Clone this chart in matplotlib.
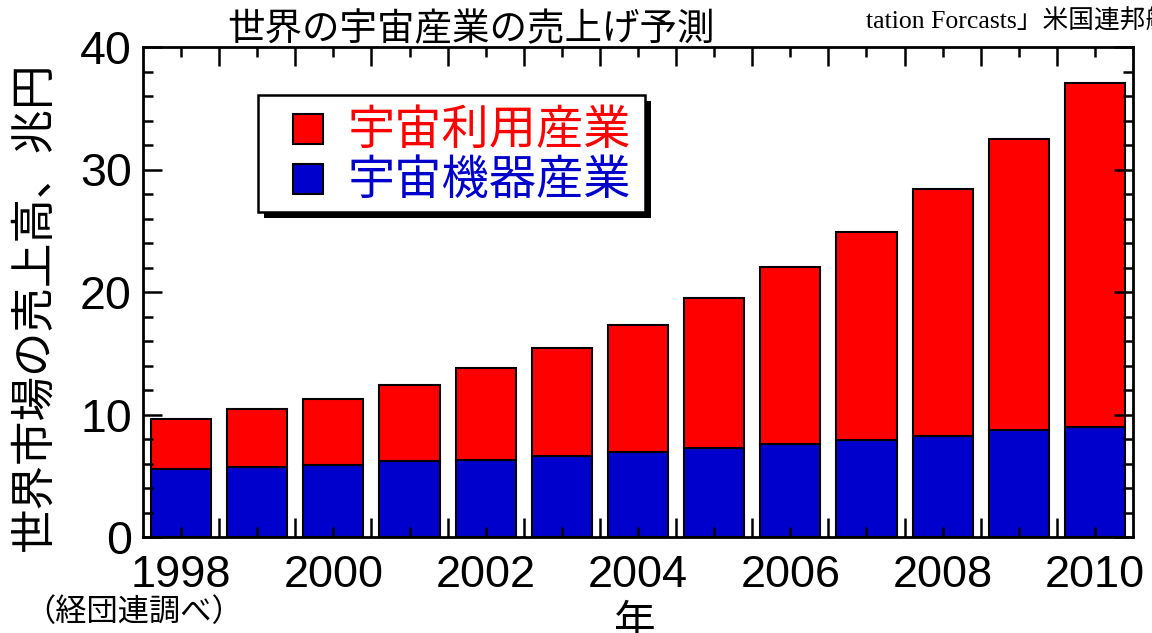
import matplotlib
matplotlib.use("Agg")
import matplotlib.pyplot as plt
import matplotlib.patheffects as pe
from matplotlib.patches import Rectangle
from matplotlib.ticker import MultipleLocator, FixedLocator, FuncFormatter

plt.rcParams['font.family'] = ['Liberation Sans', 'Noto Sans CJK JP', 'DejaVu Sans']

years = [1998, 1999, 2000, 2001, 2002, 2003, 2004, 2005, 2006, 2007, 2008, 2009, 2010]
equipment = [5.55, 5.74, 5.88, 6.18, 6.31, 6.64, 6.96, 7.29, 7.62, 7.92, 8.24, 8.71, 9.02]
total = [9.66, 10.45, 11.27, 12.38, 13.8, 15.4, 17.33, 19.5, 22.04, 24.9, 28.4, 32.5, 37.1]
utilization = [t - e for t, e in zip(total, equipment)]

label_util = '宇宙利用産業'
label_equip = '宇宙機器産業'
title = '世界の宇宙産業の売上げ予測'
ylabel = '世界市場の売上高、兆円'
xlabel = '年'
source = '（経団連調べ）'
top_note = 'tation Forcasts」米国連邦航空局'

RED = '#FF0000'
BLUE = '#0000CC'

W, H = 1152, 633
fig = plt.figure(figsize=(W / 100, H / 100), dpi=100)
ax = fig.add_axes([143 / W, 1 - 537 / H, 990 / W, 490 / H])

b1 = ax.bar(years, equipment, width=0.79, color=BLUE, edgecolor='black', linewidth=1.5, label=label_equip)
b2 = ax.bar(years, utilization, bottom=equipment, width=0.79, color=RED, edgecolor='black', linewidth=1.5, label=label_util)

ax.set_xlim(1997.5, 2010.5)
ax.set_ylim(0, 40)

ax.yaxis.set_major_locator(MultipleLocator(10))
ax.yaxis.set_minor_locator(MultipleLocator(2))
ax.xaxis.set_major_locator(FixedLocator(years))
ax.xaxis.set_major_formatter(FuncFormatter(lambda v, p: f'{int(round(v))}' if int(round(v)) % 2 == 0 else ''))
ax.xaxis.set_minor_locator(FixedLocator([y + 0.5 for y in years[:-1]]))

ax.tick_params(axis='x', which='major', direction='in', length=7, width=1.8, top=True, bottom=True,
               labelsize=32.5, pad=13)
ax.tick_params(axis='x', which='minor', direction='in', length=14, width=1.8, top=True, bottom=True)
ax.tick_params(axis='y', which='major', direction='in', length=14, width=1.8, left=True, right=True,
               labelsize=33.5, pad=8)
ax.tick_params(axis='y', which='minor', direction='in', length=7, width=1.8, left=True, right=True)
for s in ax.spines.values():
    s.set_linewidth(2)

# y label placed as in reference
fig.text(34 / W, 1 - 306 / H, ylabel, fontsize=32, family=['Noto Sans CJK JP'],
         rotation=90, ha='center', va='center')

fig.text(471 / W, 1 - 30 / H, title, fontsize=27, family=['Noto Sans CJK JP'], ha='center', va='center')
fig.text(866 / W, 1 - 22 / H, top_note, fontsize=18.5, family=['Liberation Serif', 'Noto Sans CJK JP'],
         ha='left', va='center')
fig.text(24 / W, 1 - 612 / H, source, fontsize=22.5, family=['Noto Sans CJK JP'], ha='left', va='center')
fig.text(635 / W, 1 - 624 / H, xlabel, fontsize=30, family=['Noto Sans CJK JP'], ha='center', va='center')

# legend drawn by hand (frame with black drop shadow)
def fx(px):
    return px / W

def fy(py):
    return 1 - py / H

frame = Rectangle((fx(258), fy(212)), fx(645) - fx(258), fy(95) - fy(212), transform=fig.transFigure,
                  facecolor='white', edgecolor='black', linewidth=1.8, zorder=5)
frame.set_path_effects([pe.SimplePatchShadow(offset=(4.5, -4.5), shadow_rgbFace='black', alpha=1), pe.Normal()])
fig.add_artist(frame)
for (y0, col, lab) in [(114, RED, label_util), (164, BLUE, label_equip)]:
    sq = Rectangle((fx(293), fy(y0 + 30)), fx(323) - fx(293), fy(y0) - fy(y0 + 30), transform=fig.transFigure,
                   facecolor=col, edgecolor='black', linewidth=1.5, zorder=6)
    fig.add_artist(sq)
    fig.text(fx(348), fy(y0 + 17), lab, fontsize=34, family=['Noto Sans CJK JP'], color=col,
             ha='left', va='center', zorder=7)

fig.savefig('out.png', dpi=100)
